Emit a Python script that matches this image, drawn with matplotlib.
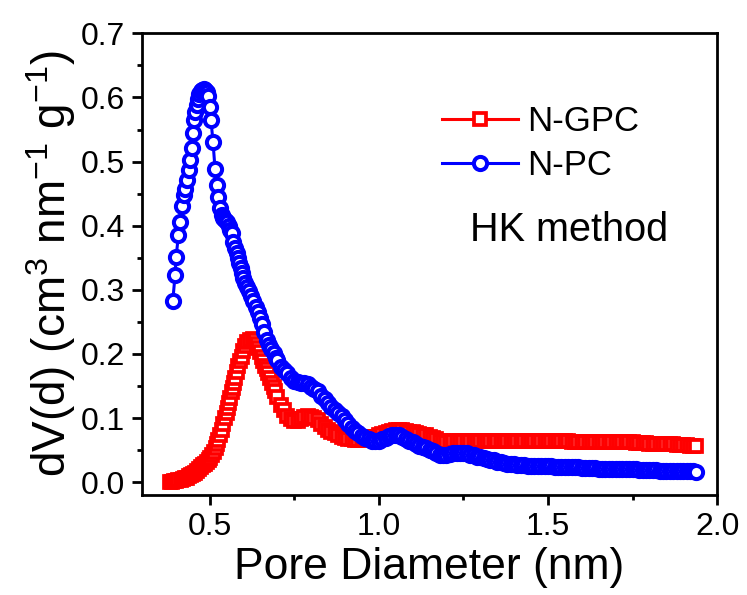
import matplotlib
matplotlib.use("Agg")
import matplotlib.pyplot as plt
from matplotlib.ticker import MultipleLocator

plt.rcParams['font.family'] = ['Liberation Sans', 'DejaVu Sans']
plt.rcParams['mathtext.default'] = 'regular'

# pore diameters shared by both samples above 0.70 nm
tail_d = [0.70, 0.71, 0.72, 0.73, 0.74, 0.75, 0.76, 0.77, 0.78, 0.79,
          0.80, 0.81, 0.82, 0.83, 0.84, 0.85, 0.86, 0.87, 0.88, 0.89,
          0.90, 0.91, 0.92, 0.93, 0.94, 0.95, 0.96, 0.97, 0.98, 0.99,
          1.00, 1.01, 1.02, 1.03, 1.04, 1.05, 1.06, 1.07, 1.08, 1.09,
          1.10, 1.11, 1.12, 1.13, 1.14, 1.15, 1.16, 1.17, 1.18, 1.19,
          1.20, 1.21, 1.22, 1.23, 1.24, 1.25, 1.26, 1.27, 1.28, 1.29,
          1.30, 1.31, 1.32, 1.33, 1.34, 1.35, 1.36, 1.37, 1.38, 1.39,
          1.40, 1.41, 1.42, 1.43, 1.44, 1.45, 1.46, 1.47, 1.48, 1.49,
          1.50, 1.51, 1.52, 1.53, 1.54, 1.55, 1.56, 1.57, 1.58, 1.59,
          1.60, 1.61, 1.62, 1.63, 1.64, 1.65, 1.66, 1.67, 1.68, 1.69,
          1.70, 1.71, 1.72, 1.73, 1.74, 1.75, 1.76, 1.77, 1.78, 1.79,
          1.80, 1.81, 1.82, 1.83, 1.84, 1.85, 1.86, 1.87, 1.88, 1.89,
          1.90, 1.91, 1.92, 1.93, 1.937]

# N-GPC (red squares)
gpc_head_d = [0.384, 0.390, 0.396, 0.402, 0.408, 0.414, 0.420, 0.426, 0.432, 0.438,
              0.444, 0.450, 0.456, 0.462, 0.468, 0.474, 0.480, 0.486, 0.492, 0.497,
              0.502, 0.508, 0.513, 0.518, 0.522, 0.526, 0.531, 0.536, 0.541, 0.546,
              0.550, 0.553, 0.557, 0.561, 0.565, 0.569, 0.5725, 0.576, 0.581, 0.585,
              0.590, 0.595, 0.600, 0.605, 0.612, 0.620, 0.628, 0.635, 0.640, 0.644,
              0.649, 0.654, 0.659, 0.664, 0.669, 0.674, 0.679, 0.684, 0.689, 0.694]
gpc_head_dv = [0.001, 0.001, 0.002, 0.002, 0.003, 0.004, 0.005, 0.006, 0.007, 0.009,
               0.011, 0.013, 0.015, 0.018, 0.021, 0.024, 0.027, 0.029, 0.032, 0.034,
               0.037, 0.042, 0.047, 0.053, 0.059, 0.066, 0.074, 0.082, 0.091, 0.100,
               0.108, 0.116, 0.124, 0.132, 0.140, 0.147, 0.155, 0.163, 0.172, 0.181,
               0.189, 0.196, 0.204, 0.212, 0.218, 0.2225, 0.223, 0.222, 0.216, 0.2095,
               0.203, 0.196, 0.189, 0.181, 0.176, 0.171, 0.163, 0.155, 0.148, 0.142]
gpc_tail_dv = [0.133, 0.121, 0.112, 0.103, 0.098, 0.096, 0.096, 0.098, 0.101, 0.103,
               0.102, 0.100, 0.097, 0.091, 0.086, 0.081, 0.078, 0.076, 0.073, 0.071,
               0.069, 0.068, 0.067, 0.066, 0.066, 0.066, 0.067, 0.068, 0.070, 0.071,
               0.073, 0.075, 0.077, 0.079, 0.080, 0.081, 0.081, 0.081, 0.080, 0.079,
               0.078, 0.077, 0.075, 0.074, 0.073, 0.071, 0.069, 0.067, 0.065, 0.064,
               0.063, 0.063, 0.064, 0.064, 0.064, 0.064, 0.064, 0.064, 0.064, 0.064,
               0.064, 0.064, 0.064, 0.064, 0.064, 0.064, 0.064, 0.064, 0.064, 0.064,
               0.064, 0.064, 0.064, 0.064, 0.064, 0.064, 0.064, 0.064, 0.064, 0.064,
               0.064, 0.064, 0.064, 0.064, 0.064, 0.064, 0.064, 0.063, 0.063, 0.063,
               0.063, 0.063, 0.063, 0.063, 0.063, 0.063, 0.063, 0.062, 0.062, 0.062,
               0.062, 0.062, 0.062, 0.062, 0.062, 0.062, 0.061, 0.061, 0.061, 0.061,
               0.060, 0.060, 0.060, 0.060, 0.059, 0.059, 0.059, 0.059, 0.058, 0.058,
               0.058, 0.058, 0.057, 0.057, 0.0565]

# N-PC (blue circles)
pc_head_d = [0.391, 0.398, 0.401, 0.408, 0.413, 0.418, 0.423, 0.428, 0.433, 0.438,
             0.443, 0.448, 0.451, 0.453, 0.457, 0.462, 0.465, 0.470, 0.474, 0.478,
             0.482, 0.487, 0.491, 0.494, 0.500, 0.504, 0.510, 0.516, 0.521, 0.526,
             0.531, 0.536, 0.541, 0.546, 0.551, 0.556, 0.561, 0.566, 0.570, 0.575,
             0.580, 0.584, 0.588, 0.592, 0.595, 0.600, 0.605, 0.610, 0.615, 0.622,
             0.629, 0.636, 0.644, 0.649, 0.654, 0.661, 0.669, 0.675, 0.682, 0.689,
             0.696]
pc_head_dv = [0.282, 0.323, 0.351, 0.386, 0.406, 0.431, 0.448, 0.458, 0.471, 0.487,
              0.502, 0.521, 0.544, 0.565, 0.577, 0.588, 0.598, 0.606, 0.610, 0.612,
              0.613, 0.612, 0.608, 0.603, 0.585, 0.565, 0.531, 0.489, 0.463, 0.445,
              0.427, 0.417, 0.412, 0.409, 0.406, 0.399, 0.394, 0.388, 0.375, 0.366,
              0.357, 0.350, 0.342, 0.334, 0.326, 0.318, 0.311, 0.304, 0.2975, 0.290,
              0.282, 0.274, 0.266, 0.256, 0.246, 0.234, 0.222, 0.214, 0.208, 0.202,
              0.194]
pc_tail_dv = [0.190, 0.180, 0.175, 0.170, 0.163, 0.158, 0.156, 0.155, 0.155, 0.153,
              0.149, 0.146, 0.143, 0.135, 0.129, 0.124, 0.118, 0.113, 0.108, 0.103,
              0.097, 0.091, 0.085, 0.080, 0.076, 0.072, 0.069, 0.067, 0.065, 0.065,
              0.065, 0.067, 0.069, 0.072, 0.074, 0.074, 0.073, 0.071, 0.068, 0.065,
              0.062, 0.059, 0.057, 0.055, 0.053, 0.051, 0.048, 0.045, 0.043, 0.043,
              0.043, 0.044, 0.045, 0.046, 0.046, 0.046, 0.045, 0.043, 0.042, 0.040,
              0.039, 0.038, 0.036, 0.035, 0.034, 0.032, 0.031, 0.030, 0.029, 0.028,
              0.028, 0.027, 0.027, 0.027, 0.026, 0.026, 0.026, 0.026, 0.025, 0.025,
              0.025, 0.025, 0.024, 0.024, 0.024, 0.024, 0.023, 0.023, 0.023, 0.023,
              0.022, 0.022, 0.022, 0.022, 0.022, 0.021, 0.021, 0.021, 0.021, 0.021,
              0.021, 0.020, 0.020, 0.020, 0.020, 0.020, 0.020, 0.019, 0.019, 0.019,
              0.019, 0.019, 0.019, 0.018, 0.018, 0.018, 0.018, 0.018, 0.018, 0.017,
              0.017, 0.017, 0.017, 0.017, 0.0166]

gpc_d = gpc_head_d + tail_d
gpc_dv = gpc_head_dv + gpc_tail_dv
pc_d = pc_head_d + tail_d
pc_dv = pc_head_dv + pc_tail_dv

fig = plt.figure(figsize=(7.47, 5.95), dpi=100)
ax = fig.add_axes([0.190, 0.168, 0.770, 0.776])

ax.plot(gpc_d, gpc_dv, color='red', lw=2.2, marker='s', ms=8.5, mew=2.7,
        mfc='white', mec='red', label='N-GPC')
ax.plot(pc_d, pc_dv, color='blue', lw=2.2, marker='o', ms=9.5, mew=2.9,
        mfc='white', mec='blue', label='N-PC')

ax.set_xlim(0.3, 2.0)
ax.set_ylim(-0.02, 0.7)
ax.xaxis.set_major_locator(MultipleLocator(0.5))
ax.xaxis.set_minor_locator(MultipleLocator(0.25))
ax.yaxis.set_major_locator(MultipleLocator(0.1))
ax.yaxis.set_minor_locator(MultipleLocator(0.05))
ax.set_xticks([0.5, 1.0, 1.5, 2.0])

for s in ax.spines.values():
    s.set_linewidth(2.0)
ax.tick_params(which='both', direction='out', top=False, right=False, width=2.0)
ax.tick_params(which='major', length=7, labelsize=23, pad=5)
ax.tick_params(which='minor', length=3.5)

ax.set_xlabel('Pore Diameter (nm)', fontsize=32, labelpad=4)
ax.set_ylabel(r'dV(d) (cm$^{3}$ nm$^{-1}$ g$^{-1}$)', fontsize=33, labelpad=2)

ax.legend(loc='upper left', bbox_to_anchor=(0.479, 0.898), frameon=False,
          fontsize=25, handlelength=2.2, handletextpad=0.25, labelspacing=0.32,
          borderpad=0.2)
ax.text(1.27, 0.393, 'HK method', fontsize=28.5, va='center', ha='left')

fig.savefig('out.png', dpi=100)
